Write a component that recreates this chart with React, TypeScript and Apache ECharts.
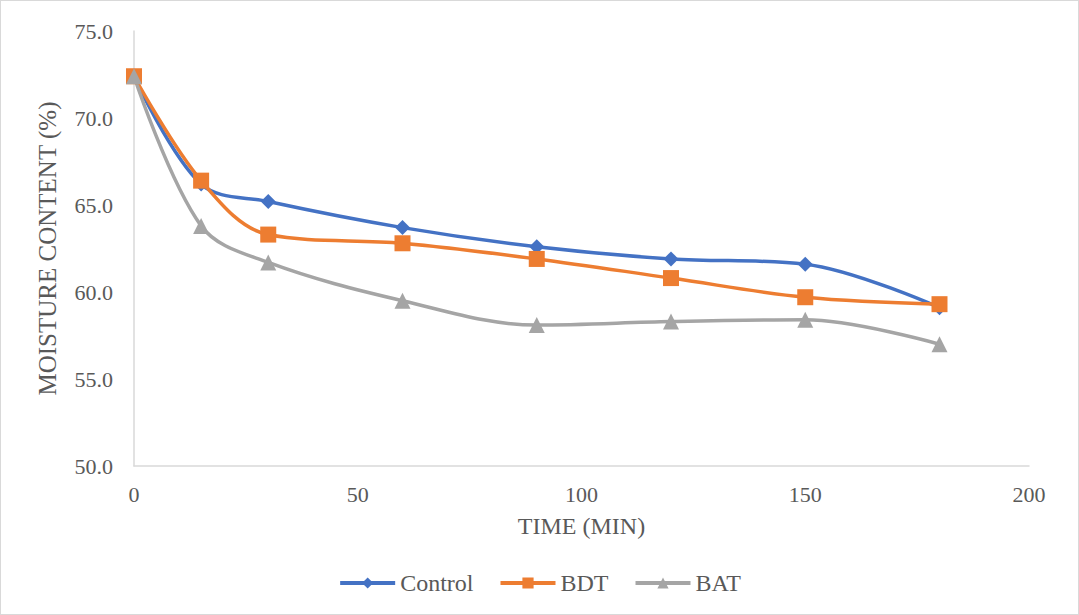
import React, { useEffect, useRef } from "react";
import * as echarts from "echarts";

const times = [0, 15, 30, 60, 90, 120, 150, 180];
const control = [72.4, 66.2, 65.2, 63.7, 62.6, 61.9, 61.6, 59.1];
const bdt = [72.4, 66.4, 63.3, 62.8, 61.9, 60.8, 59.7, 59.3];
const bat = [72.4, 63.8, 61.7, 59.5, 58.1, 58.3, 58.4, 57.0];
const xTitle = "TIME (MIN)";
const yTitle = "MOISTURE CONTENT (%)";

const FONT = "Liberation Serif";
const TEXT = "#595959";
const AXIS = "#d9d9d9";

const pairs = (ys: number[]) => times.map((t, i) => [t, ys[i]]);

export default function App() {
  const ref = useRef<HTMLDivElement>(null);
  useEffect(() => {
    document.body.style.margin = "0";
    const chart = echarts.init(ref.current!, undefined, { renderer: "svg" });
    const line = (name: string, color: string, symbol: string, size: number, ys: number[]) => ({
      name,
      type: "line",
      data: pairs(ys),
      smooth: 0.35,
      symbol,
      symbolSize: size,
      itemStyle: { color },
      lineStyle: { color, width: 3.5 },
    });
    chart.setOption({
      animation: false,
      textStyle: { fontFamily: FONT },
      grid: { left: 133, right: 49, top: 30, bottom: 148 },
      xAxis: {
        type: "value",
        min: 0,
        max: 200,
        interval: 50,
        name: xTitle,
        nameLocation: "middle",
        nameGap: 48,
        nameTextStyle: { color: TEXT, fontSize: 24, fontFamily: FONT },
        axisLine: { show: true, lineStyle: { color: AXIS, width: 1.5 } },
        axisTick: { show: false },
        splitLine: { show: false },
        axisLabel: { color: TEXT, fontSize: 22, fontFamily: FONT, margin: 17 },
      },
      yAxis: {
        type: "value",
        min: 50,
        max: 75,
        interval: 5,
        name: yTitle,
        nameLocation: "middle",
        nameGap: 74,
        nameTextStyle: { color: TEXT, fontSize: 25, fontFamily: FONT },
        axisLine: { show: true, lineStyle: { color: AXIS, width: 1.5 } },
        axisTick: { show: false },
        splitLine: { show: false },
        axisLabel: {
          color: TEXT,
          fontSize: 22,
          fontFamily: FONT,
          margin: 21,
          formatter: (v: number) => v.toFixed(1),
        },
      },
      legend: {
        top: 565,
        left: "center",
        itemWidth: 55,
        itemHeight: 14,
        itemGap: 25,
        lineStyle: { width: 4 },
        textStyle: { color: TEXT, fontSize: 24, fontFamily: FONT },
        data: ["Control", "BDT", "BAT"],
      },
      series: [
        line("Control", "#4472c4", "diamond", 15, control),
        line("BDT", "#ed7d31", "rect", 16, bdt),
        line("BAT", "#a5a5a5", "triangle", 16, bat),
      ],
    });
    return () => chart.dispose();
  }, []);
  return (
    <div
      ref={ref}
      style={{
        position: "absolute",
        left: 0,
        top: 0,
        width: 1079,
        height: 615,
        border: "1px solid #d9d9d9",
        boxSizing: "border-box",
        background: "#fff",
      }}
    />
  );
}
